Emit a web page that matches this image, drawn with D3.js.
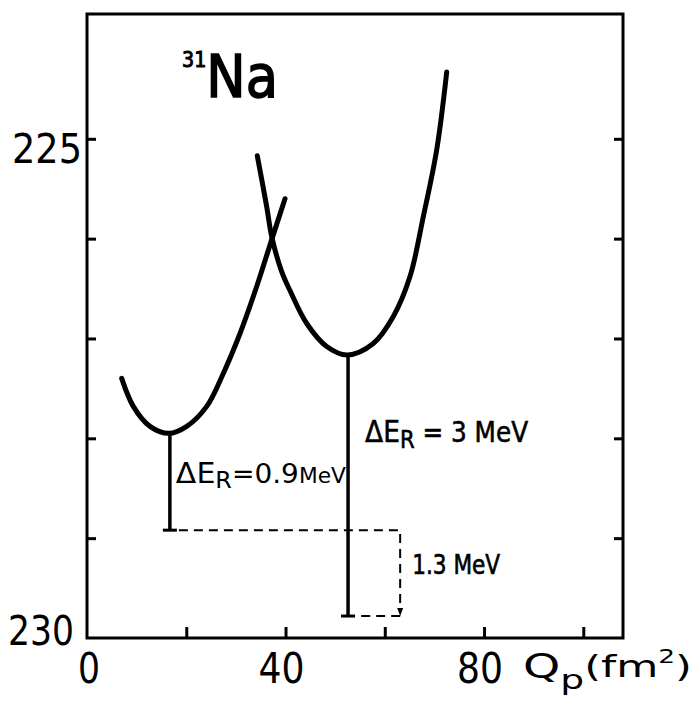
<!DOCTYPE html>
<html>
<head>
<meta charset="utf-8">
<script src="https://cdn.jsdelivr.net/npm/d3@7"></script>
<style>
  body { margin: 0; background: #fff; }
  text { font-family: 'DejaVu Sans', sans-serif; fill: #000; }
</style>
</head>
<body>
<svg></svg>
<script>
var width = 694,
    height = 714;

// Lower (oblate) minimum curve, Qp in fm^2 vs energy
var leftQ = [6.99, 9.33, 12.69, 16.5, 20.09, 24.12, 27.46, 30.83, 34.19, 37.22, 39.9];
var leftE = [227.40, 227.68, 227.88, 227.95, 227.88, 227.68, 227.35, 226.95, 226.48, 226.01, 225.60];

// Upper (prolate) minimum curve
var rightQ = [34.31, 36.21, 37.22, 39.23, 40.9, 44.27, 48.3, 52.4, 57.69, 61.72, 65.08, 67.76, 70.46, 72.48];
var rightE = [225.17, 225.68, 225.98, 226.33, 226.52, 226.85, 227.08, 227.165, 227.05, 226.78, 226.38, 225.78, 225.11, 224.33];

// Vertical bars: Qp position, top energy, bottom energy
var barQ = [16.7, 52.6];
var barTop = [227.96, 227.17];
var barBottom = [228.92, 229.78];

// Dashed 1.3 MeV bracket
var bracketQ = 63.1;

var yTicks = [225, 226, 227, 228, 229];
var xTicks = [20, 40, 60, 80, 100];
var yTickLabels = ['225', '230'];
var xTickLabels = ['0', '40', '80'];

var x = d3.scaleLinear()
    .domain([0, 108])
    .range([87, 623]);

var y = d3.scaleLinear()
    .domain([223.75, 230])
    .range([14, 638]);

var svg = d3.select('svg')
    .attr('width', width)
    .attr('height', height);

// one text made of tspans, squeezed to the width seen in the scan
// part: [size, dy, strokeWidth, text]
function label(x0, base, len, parts) {
    var t = svg.append('text')
        .attr('x', x0)
        .attr('y', base)
        .attr('textLength', len)
        .attr('lengthAdjust', 'spacingAndGlyphs');
    parts.forEach(function(p) {
        t.append('tspan')
            .attr('dy', p[1])
            .style('font-size', p[0] + 'px')
            .style('stroke', p[2] ? '#000' : 'none')
            .style('stroke-width', p[2])
            .text(p[3]);
    });
    return t;
}

// Frame
svg.append('rect')
    .attr('x', x(0))
    .attr('y', y(223.75))
    .attr('width', x(108) - x(0))
    .attr('height', y(230) - y(223.75))
    .attr('fill', 'none')
    .attr('stroke', '#000')
    .attr('stroke-width', 3);

// Inward ticks on three sides
function tickStyle(g) {
    g.select('.domain').remove();
    g.selectAll('.tick line').attr('stroke', '#000').attr('stroke-width', 3);
}

svg.append('g')
    .attr('transform', 'translate(' + x(0) + ',0)')
    .call(d3.axisLeft(y).tickValues(yTicks).tickSize(-9).tickFormat(''))
    .call(tickStyle);

svg.append('g')
    .attr('transform', 'translate(' + x(108) + ',0)')
    .call(d3.axisRight(y).tickValues(yTicks).tickSize(-9).tickFormat(''))
    .call(tickStyle);

svg.append('g')
    .attr('transform', 'translate(0,' + y(230) + ')')
    .call(d3.axisBottom(x).tickValues(xTicks).tickSize(-11).tickFormat(''))
    .call(tickStyle);

// Tick labels
svg.selectAll('.ylab')
    .data(yTickLabels)
    .enter().append('text')
    .attr('class', 'ylab')
    .attr('x', function(d) { return d === '230' ? 8 : 12; })
    .attr('y', function(d) { return y(+d) + (d === '230' ? 7 : 24); })
    .attr('textLength', function(d) { return d === '230' ? 66 : 70; })
    .attr('lengthAdjust', 'spacingAndGlyphs')
    .style('font-size', '41px')
    .text(function(d) { return d; });

svg.selectAll('.xlab')
    .data(xTickLabels)
    .enter().append('text')
    .attr('class', 'xlab')
    .attr('x', function(d) { return x(+d) + (d === '0' ? 2 : -4); })
    .attr('y', y(230) + 45)
    .attr('text-anchor', 'middle')
    .attr('textLength', function(d) { return d.length === 1 ? 22 : 46; })
    .attr('lengthAdjust', 'spacingAndGlyphs')
    .style('font-size', '42px')
    .text(function(d) { return d; });

// Axis title Qp(fm^2)
label(523, 678, 169, [
    [34, 0, 0, 'Q'],
    [27, 11, 0, 'p'],
    [31, -12, 0, '(fm'],
    [19, -14, 0, '2'],
    [31, 14, 0, ')']
]);

// Nucleus label
label(182, 97, 96, [
    [21, -30, 1, '31'],
    [58, 30, 1.6, 'Na']
]);

// Curves
var line = d3.line()
    .x(function(d) { return x(d[0]); })
    .y(function(d) { return y(d[1]); })
    .curve(d3.curveCatmullRom.alpha(0.5));

[[leftQ, leftE], [rightQ, rightE]].forEach(function(c) {
    svg.append('path')
        .datum(d3.zip(c[0], c[1]))
        .attr('d', line)
        .attr('fill', 'none')
        .attr('stroke', '#000')
        .attr('stroke-width', 5)
        .attr('stroke-linecap', 'round')
        .attr('stroke-linejoin', 'round');
});

// Vertical bars with caps
barQ.forEach(function(q, i) {
    svg.append('line')
        .attr('x1', x(q)).attr('x2', x(q))
        .attr('y1', y(barTop[i])).attr('y2', y(barBottom[i]))
        .attr('stroke', '#000').attr('stroke-width', 3.5);
    svg.append('line')
        .attr('x1', x(q) - 7).attr('x2', x(q) + 7)
        .attr('y1', y(barBottom[i])).attr('y2', y(barBottom[i]))
        .attr('stroke', '#000').attr('stroke-width', 3);
});

// Dashed bracket showing 1.3 MeV
var dash = svg.append('g')
    .attr('fill', 'none')
    .attr('stroke', '#000')
    .attr('stroke-width', 2)
    .attr('stroke-dasharray', '9,6');

dash.append('path')
    .attr('d', 'M' + (x(barQ[0]) + 9) + ',' + y(barBottom[0]) +
        'H' + x(bracketQ) + 'V' + (y(barBottom[1]) - 4));
dash.append('path')
    .attr('d', 'M' + x(bracketQ) + ',' + y(barBottom[1]) + 'H' + (x(barQ[1]) + 8));

svg.append('path')
    .attr('d', 'M' + (x(bracketQ) - 3) + ',' + (y(barBottom[1]) - 8) +
        'L' + x(bracketQ) + ',' + y(barBottom[1]) +
        'L' + (x(bracketQ) + 3) + ',' + (y(barBottom[1]) - 8) + 'Z')
    .attr('fill', '#000');

// Labels for the energy gaps
label(x(barQ[0]) + 6, 483, 170, [
    [29, 0, 0, 'ΔE'],
    [23, 5, 0, 'R'],
    [26, -5, 0, '='],
    [27, 0, 0, '0.9'],
    [21, 0, 0, 'MeV']
]);

label(x(barQ[1]) + 17, 442, 163, [
    [30, 0, 0.6, 'ΔE'],
    [24, 6, 0.6, 'R'],
    [28, -6, 0.6, ' = 3 MeV']
]);

label(x(bracketQ) + 12, 574, 88, [
    [27, 0, 0.7, '1.3 MeV']
]);
</script>
</body>
</html>
